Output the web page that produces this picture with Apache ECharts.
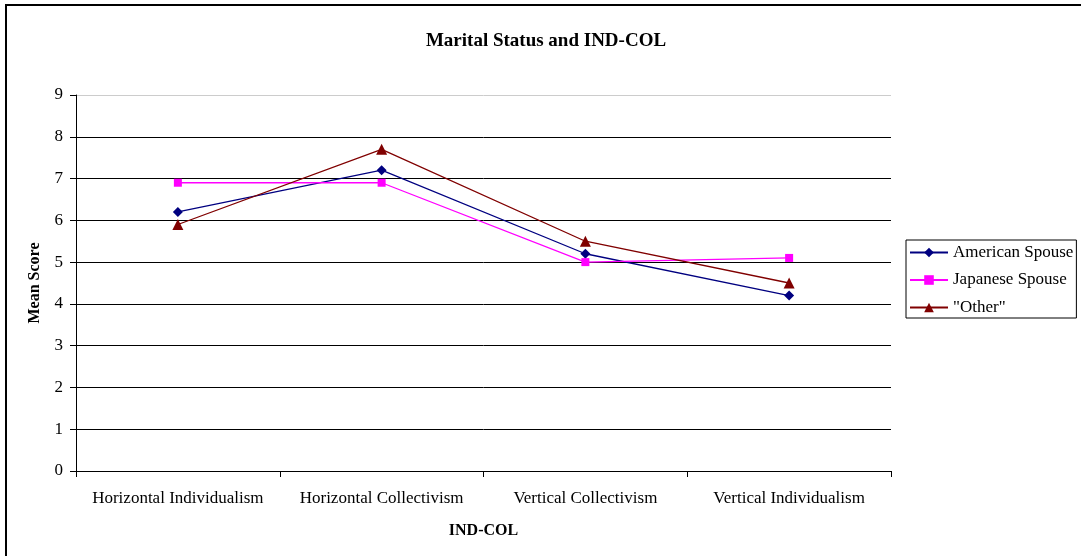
<!DOCTYPE html>
<html><head><meta charset="utf-8">
<script src="https://cdn.jsdelivr.net/npm/echarts@6/dist/echarts.min.js"></script>
<style>html,body{margin:0;padding:0;background:#fff}#c{width:1081px;height:556px}</style>
</head><body><div id="c"></div>
<script>
const categories = ["Horizontal Individualism", "Horizontal Collectivism", "Vertical Collectivism", "Vertical Individualism"];
const american = [6.2, 7.2, 5.2, 4.2];
const japanese = [6.9, 6.9, 5.0, 5.1];
const other = [5.9, 7.7, 5.5, 4.5];
const seriesNames = ["American Spouse", "Japanese Spouse", "\"Other\""];

const font = "Liberation Serif";
const chart = echarts.init(document.getElementById('c'));
chart.setOption({
  animation: false,
  backgroundColor: '#fff',
  title: {text: 'Marital Status and IND-COL', left: 541, textAlign: 'center', top: 27,
    textStyle: {fontFamily: font, fontSize: 19, fontWeight: 'bold', color: '#000'}},
  graphic: [{type: 'rect', shape: {x: 6, y: 5, width: 1200, height: 700}, style: {fill: 'none', stroke: '#000', lineWidth: 2}}],
  grid: {left: 76, right: 190, top: 95, bottom: 85},
  legend: {orient: 'vertical', left: 906, top: 240, width: 172, padding: [4, 3, 2, 3], itemGap: 10.5,
    borderColor: '#000', borderWidth: 1, itemWidth: 38, itemHeight: 12,
    textStyle: {fontFamily: font, fontSize: 17, color: '#000'},
    data: seriesNames},
  xAxis: {type: 'category', data: categories, boundaryGap: true,
    name: 'IND-COL', nameLocation: 'middle', nameGap: 52,
    nameTextStyle: {fontFamily: font, fontSize: 16, fontWeight: 'bold', color: '#000'},
    axisLine: {lineStyle: {color: '#000', width: 1}},
    axisTick: {show: true, interval: 0, length: 6, lineStyle: {color: '#000'}},
    axisLabel: {interval: 0, fontFamily: font, fontSize: 17, color: '#000', margin: 19}},
  yAxis: {type: 'value', min: 0, max: 9, interval: 1,
    name: 'Mean Score', nameLocation: 'middle', nameGap: 33, nameRotate: 90,
    nameTextStyle: {fontFamily: font, fontSize: 16, fontWeight: 'bold', color: '#000'},
    axisLine: {show: true, lineStyle: {color: '#000'}},
    axisTick: {show: true, length: 6, lineStyle: {color: '#000'}},
    axisLabel: {fontFamily: font, fontSize: 17, color: '#000', margin: 13}},
  series: [
    {name: seriesNames[0], type: 'line', data: american, symbol: 'diamond', symbolSize: 10,
      lineStyle: {color: '#000080', width: 1.3}, itemStyle: {color: '#000080'}},
    {name: seriesNames[1], type: 'line', data: japanese, symbol: 'rect', symbolSize: 8,
      lineStyle: {color: '#FF00FF', width: 1.3}, itemStyle: {color: '#FF00FF'}},
    {name: seriesNames[2], type: 'line', data: other, symbol: 'triangle', symbolSize: 11,
      lineStyle: {color: '#800000', width: 1.3}, itemStyle: {color: '#800000'}}
  ]
});
chart.setOption({yAxis: {splitLine: {show: true, lineStyle: {color: ['#000','#000','#000','#000','#000','#000','#000','#000','#000','#ccc'], width: 1}}}});
</script></body></html>
